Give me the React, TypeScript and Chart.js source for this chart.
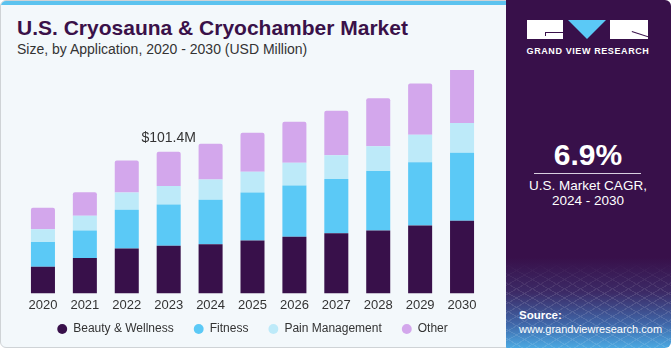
import React, { useEffect, useRef } from "react";
import { Chart, registerables } from "chart.js";

Chart.register(...registerables);

const categories = ["2020", "2021", "2022", "2023", "2024", "2025", "2026", "2027", "2028", "2029", "2030"];
const beautyWellness = [19.1, 25.4, 32.1, 34.2, 35.2, 37.8, 40.5, 43.1, 45.0, 48.6, 52.0];
const fitness = [17.8, 19.6, 27.8, 29.5, 31.9, 34.5, 36.7, 38.8, 42.7, 45.3, 48.7];
const painManagement = [9.1, 10.6, 12.4, 13.2, 14.4, 14.9, 16.3, 17.0, 17.7, 19.7, 21.3];
const other = [15.3, 16.8, 22.8, 24.5, 25.7, 27.8, 29.5, 31.9, 34.3, 36.7, 39.1];
const seriesNames = ["Beauty & Wellness", "Fitness", "Pain Management", "Other"];
const seriesColors = ["#38104a", "#5bc9f6", "#bdeaf9", "#d3a7ec"];
const annotationIndex = 3;
const annotationLabel = "$101.4M";

const FONT = "'Liberation Sans', Arial, sans-serif";

const totalLabelPlugin = {
  id: "totalLabel",
  afterDatasetsDraw(chart: any) {
    const last = chart.data.datasets.length - 1;
    const meta = chart.getDatasetMeta(last);
    const el = meta.data[annotationIndex];
    if (!el) return;
    const ctx = chart.ctx;
    ctx.save();
    ctx.font = `14px ${FONT}`;
    ctx.fillStyle = "#333333";
    ctx.textAlign = "center";
    ctx.textBaseline = "middle";
    ctx.fillText(annotationLabel, el.x, el.y - 14);
    ctx.restore();
  },
};

const legendShiftPlugin = {
  id: "legendShift",
  afterLayout(chart: any) {
    const lg = chart.legend;
    if (!lg) return;
    lg.top -= 14;
    lg.bottom -= 14;
  },
};

function ChartCanvas() {
  const ref = useRef<HTMLCanvasElement | null>(null);
  useEffect(() => {
    if (!ref.current) return;
    const data = [beautyWellness, fitness, painManagement, other];
    const chart = new Chart(ref.current, {
      type: "bar",
      data: {
        labels: categories,
        datasets: data.map((d, i) => ({
          label: seriesNames[i],
          data: d,
          backgroundColor: seriesColors[i],
          borderWidth: 0,
          borderRadius: i === 3 ? { topLeft: 2, topRight: 2, bottomLeft: 0, bottomRight: 0 } : 0,
          borderSkipped: false,
          barPercentage: 0.573,
          categoryPercentage: 1,
        })),
      },
      options: {
        animation: false,
        responsive: false,
        layout: { padding: { left: 22, right: 23, top: 10, bottom: 1 } },
        scales: {
          x: {
            stacked: true,
            grid: { display: false, drawTicks: false },
            border: { display: false },
            ticks: { color: "#333333", font: { size: 13, family: FONT }, padding: 4 },
          },
          y: { stacked: true, display: false, min: 0, max: 160 },
        },
        plugins: {
          legend: {
            position: "bottom",
            labels: {
              usePointStyle: true,
              pointStyle: "circle",
              boxWidth: 10,
              boxHeight: 7,
              padding: 20,
              color: "#333333",
              font: { size: 12, family: FONT },
            },
          },
          tooltip: { enabled: false },
        },
      },
      plugins: [totalLabelPlugin, legendShiftPlugin],
    } as any);
    return () => chart.destroy();
  }, []);
  return <canvas ref={ref} width={506} height={300} style={{ position: "absolute", left: 0, top: 60 }} />;
}

export default function App() {
  return (
    <div style={{ position: "fixed", left: 0, top: 0, width: 671, height: 350, overflow: "hidden", fontFamily: FONT, background: "#ffffff" }}>
      <div style={{ position: "absolute", left: 0, top: 0, width: 520, height: 348, boxSizing: "border-box", border: "1px solid #cfd3d6", borderRadius: 6, background: "#f3f8fb", overflow: "hidden" }}>
        <div style={{ position: "absolute", left: 0, top: 0, right: 0, height: 4, background: "#5cc3ef" }} />
      </div>
      <div style={{ position: "absolute", left: 17, top: 16, fontSize: 21, fontWeight: 700, color: "#3a1149", whiteSpace: "nowrap" }}>
        U.S. Cryosauna &amp; Cryochamber Market
      </div>
      <div style={{ position: "absolute", left: 17, top: 41, fontSize: 14, color: "#333333", whiteSpace: "nowrap" }}>
        Size, by Application, 2020 - 2030 (USD Million)
      </div>
      <div style={{ position: "absolute", left: 0, top: 0, width: 506, height: 348, overflow: "hidden" }}>
        <ChartCanvas />
      </div>
      <div style={{ position: "absolute", left: 506, top: 0, width: 165, height: 348, borderTopRightRadius: 6, borderBottomRightRadius: 6, overflow: "hidden", background: "linear-gradient(to bottom, #38104a 0%, #38104a 74%, #3c2a66 84%, #3f66a8 93%, #4ba9e2 100%)" }}>
        <div style={{ position: "absolute", left: 0, right: 0, top: 262, bottom: 0, opacity: 0.12, WebkitMaskImage: "linear-gradient(to bottom, transparent, black 40%)", maskImage: "linear-gradient(to bottom, transparent, black 40%)", backgroundImage: "repeating-linear-gradient(30deg, rgba(255,255,255,0.9) 0 1px, transparent 1px 8px), repeating-linear-gradient(-30deg, rgba(255,255,255,0.9) 0 1px, transparent 1px 8px)" }} />
        <div style={{ position: "absolute", left: 21, top: 20, width: 36, height: 19, background: "#ffffff" }}>
          <div style={{ position: "absolute", left: 18, top: 12, width: 18, height: 1, background: "#38104a" }} />
          <div style={{ position: "absolute", left: 18, top: 12, width: 1, height: 4, background: "#38104a" }} />
        </div>
        <div style={{ position: "absolute", left: 62, top: 20, width: 0, height: 0, borderLeft: "19px solid transparent", borderRight: "19px solid transparent", borderTop: "19px solid #5bc9f6" }} />
        <div style={{ position: "absolute", left: 104, top: 20, width: 38, height: 19, background: "#ffffff", overflow: "hidden" }}>
          <div style={{ position: "absolute", left: 22, top: 11, width: 18, height: 1, background: "#38104a", transform: "rotate(18deg)", transformOrigin: "0 0" }} />
        </div>
        <div style={{ position: "absolute", left: 0, width: 164, top: 46, textAlign: "center", fontSize: 9, fontWeight: 700, letterSpacing: 0.6, color: "#ffffff", whiteSpace: "nowrap" }}>
          GRAND VIEW RESEARCH
        </div>
        <div style={{ position: "absolute", left: 0, width: 164, top: 138, textAlign: "center", fontSize: 30, fontWeight: 700, color: "#ffffff" }}>
          6.9%
        </div>
        <div style={{ position: "absolute", left: 28, width: 107, top: 173, height: 1, background: "#d9cfe0" }} />
        <div style={{ position: "absolute", left: 0, width: 164, top: 178, textAlign: "center", fontSize: 13.5, lineHeight: "15px", color: "#ffffff" }}>
          U.S. Market CAGR,<br />2024 - 2030
        </div>
        <div style={{ position: "absolute", left: 13, top: 309, fontSize: 11.5, fontWeight: 700, color: "#ffffff" }}>Source:</div>
        <div style={{ position: "absolute", left: 13, top: 323, fontSize: 11, color: "#ffffff" }}>www.grandviewresearch.com</div>
      </div>
    </div>
  );
}
